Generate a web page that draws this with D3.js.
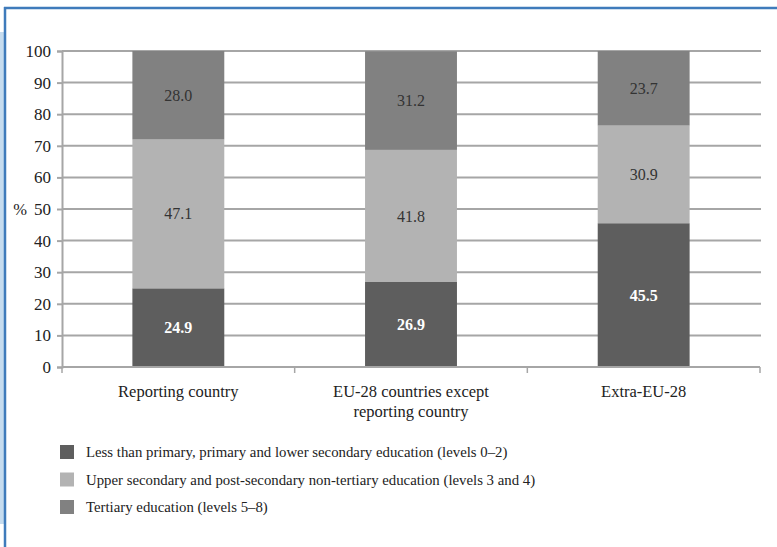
<!DOCTYPE html>
<html>
<head>
<meta charset="utf-8">
<script src="https://cdn.jsdelivr.net/npm/d3@7"></script>
<style>
  body { margin: 0; background: #fff; }
  svg { display: block; }
  svg text { font-family: "Liberation Serif", "DejaVu Serif", serif; }
</style>
</head>
<body>
<script>
// chart data
const categories = ["Reporting country", "EU-28 countries except\nreporting country", "Extra-EU-28"];
const seriesNames = [
  "Less than primary, primary and lower secondary education (levels 0\u20132)",
  "Upper secondary and post-secondary non-tertiary education (levels 3 and 4)",
  "Tertiary education (levels 5\u20138)"
];
const lowerValues = [24.9, 26.9, 45.5];
const upperValues = [47.1, 41.8, 30.9];
const tertiaryValues = [28.0, 31.2, 23.7];
const yTicks = [0, 10, 20, 30, 40, 50, 60, 70, 80, 90, 100];

const colors = ["#5e5e5e", "#b3b3b3", "#818181"];
const labelColors = ["#ffffff", "#333333", "#333333"];

const W = 777, H = 547;
const svg = d3.select("body").append("svg").attr("width", W).attr("height", H);

// frame decoration
svg.append("rect").attr("x", 0).attr("y", 32).attr("width", 4).attr("height", 492).attr("fill", "#c6dcef");
svg.append("line").attr("x1", 5).attr("x2", 5).attr("y1", 7).attr("y2", H).attr("stroke", "#3f7bbb").attr("stroke-width", 2.5);
svg.append("line").attr("x1", 4).attr("x2", W).attr("y1", 8).attr("y2", 8).attr("stroke", "#3f7bbb").attr("stroke-width", 2.5);

const mLeft = 62, mRight = 760, mTop = 51, mBottom = 367;

const x = d3.scaleBand().domain(categories).range([mLeft, mRight]).padding(0);
const y = d3.scaleLinear().domain([0, 100]).range([mBottom, mTop]);

// gridlines
svg.append("g").selectAll("line").data(yTicks.filter(d => d > 0)).enter().append("line")
  .attr("x1", mLeft).attr("x2", mRight + 1)
  .attr("y1", d => y(d)).attr("y2", d => y(d))
  .attr("stroke", "#a6a6a6").attr("stroke-width", 2);

// y axis
const yAxis = d3.axisLeft(y).tickValues(yTicks).tickSize(5).tickPadding(6);
const yG = svg.append("g").attr("transform", "translate(" + mLeft + ",0)").call(yAxis);
yG.attr("font-family", null).attr("font-size", null);
yG.select(".domain").attr("stroke", "#a6a6a6").attr("stroke-width", 2);
yG.selectAll(".tick line").attr("stroke", "#a6a6a6").attr("stroke-width", 2);
yG.selectAll(".tick text").attr("font-size", 17).attr("fill", "#222");

svg.append("text").attr("x", 20).attr("y", y(50)).attr("dy", "0.35em")
  .attr("text-anchor", "middle").attr("font-size", 16.5).attr("fill", "#222").text("%");

// stacked data
const rows = categories.map((c, i) => ({ cat: c, s0: lowerValues[i], s1: upperValues[i], s2: tertiaryValues[i] }));
const stack = d3.stack().keys(["s0", "s1", "s2"]).order(d3.stackOrderNone)(rows);

const barW = x.bandwidth() * 0.395;

const layers = svg.append("g").selectAll("g.layer").data(stack).enter().append("g")
  .attr("class", "layer").attr("fill", (d, i) => colors[i]);

layers.selectAll("rect").data(d => d).enter().append("rect")
  .attr("x", d => x(d.data.cat) + x.bandwidth() / 2 - barW / 2)
  .attr("width", barW)
  .attr("y", d => y(Math.min(d[1], 100)))
  .attr("height", d => y(d[0]) - y(Math.min(d[1], 100)));

// value labels
stack.forEach((layer, li) => {
  svg.append("g").selectAll("text").data(layer).enter().append("text")
    .attr("x", d => x(d.data.cat) + x.bandwidth() / 2)
    .attr("y", d => y((d[0] + Math.min(d[1], 100)) / 2))
    .attr("dy", "0.35em")
    .attr("text-anchor", "middle")
    .attr("font-size", 16)
    .attr("font-weight", li === 0 ? "bold" : "normal")
    .attr("fill", labelColors[li])
    .text(d => (d[1] - d[0]).toFixed(1));
});

// x axis baseline and category ticks
svg.append("line").attr("x1", mLeft).attr("x2", mRight).attr("y1", mBottom).attr("y2", mBottom)
  .attr("stroke", "#a6a6a6").attr("stroke-width", 2);
const sep = [x.range()[0]].concat(categories.map(c => x(c) + x.step()));
svg.append("g").selectAll("line").data(sep).enter().append("line")
  .attr("x1", d => d).attr("x2", d => d)
  .attr("y1", mBottom).attr("y2", mBottom + 6)
  .attr("stroke", "#a6a6a6").attr("stroke-width", 1.5);

svg.append("g").selectAll("text").data(categories).enter().append("text")
  .attr("x", d => x(d) + x.bandwidth() / 2)
  .attr("y", mBottom + 30)
  .attr("text-anchor", "middle")
  .attr("font-size", 16.5)
  .attr("fill", "#222")
  .each(function(d) {
    const lines = d.split("\n");
    d3.select(this).selectAll("tspan").data(lines).enter().append("tspan")
      .attr("x", x(d) + x.bandwidth() / 2)
      .attr("dy", (l, i) => i === 0 ? 0 : 20)
      .text(l => l);
  });

// legend
const legend = svg.append("g").selectAll("g").data(seriesNames).enter().append("g")
  .attr("transform", (d, i) => "translate(60," + (445 + i * 27.5) + ")");
legend.append("rect").attr("width", 14).attr("height", 14).attr("fill", (d, i) => colors[i]);
legend.append("text").attr("x", 26).attr("y", 7).attr("dy", "0.35em")
  .attr("font-size", 14.8).attr("fill", "#222").text(d => d);
</script>
</body>
</html>
